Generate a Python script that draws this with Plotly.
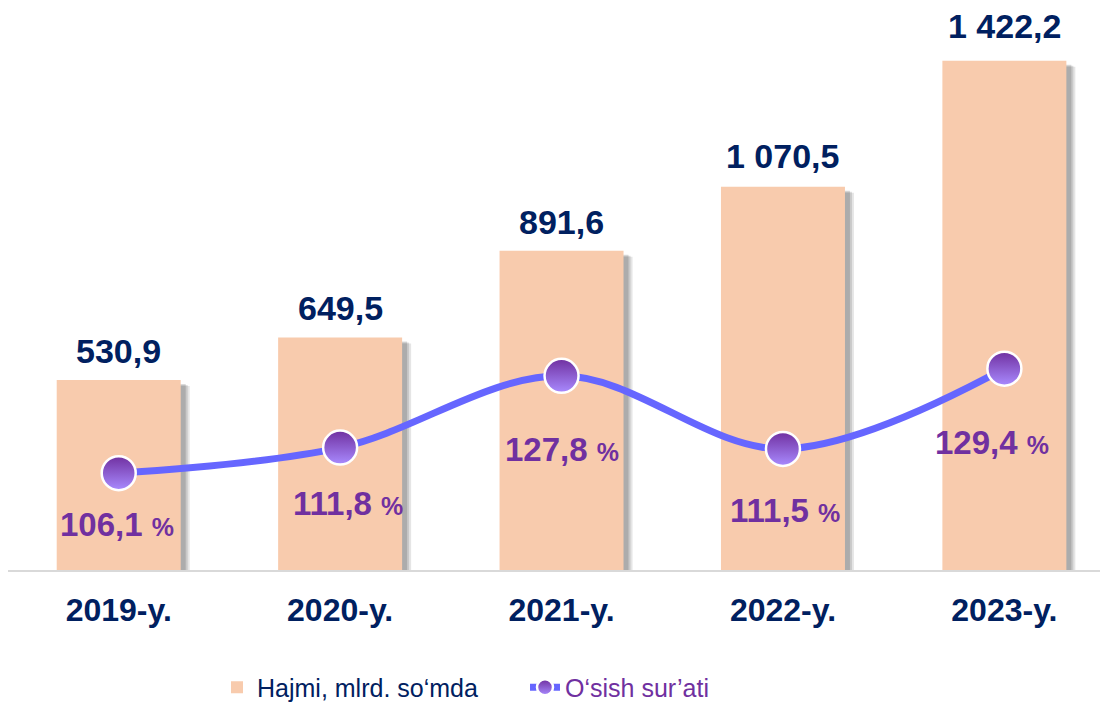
import plotly.graph_objects as go

years = ["2019-y.", "2020-y.", "2021-y.", "2022-y.", "2023-y."]
volume = [530.9, 649.5, 891.6, 1070.5, 1422.2]
growth = [106.1, 111.8, 127.8, 111.5, 129.4]

bar_name = "Hajmi, mlrd. so‘mda"
line_name = "O‘sish sur’ati"

# style
FONT = "Arial, Liberation Sans, sans-serif"
NAVY = "#002060"
PURPLE = "#7030A0"
BAR_COLOR = "#F8CBAD"
LINE_COLOR = "#6666FF"
W, H = 1100, 703
ML, MR, MT, MB = 0, 0, 2, 139
Y1_MAX = 1564
Y2_RANGE = [84.5, 209.4]
BAR_W = 0.56
pct_shift = [-51, -56, -74, -62, -74]
pct_xshift = [-2, 8, 0, 2, -12]
val_shift = [8, 8, 8, 10, 14]

x = list(range(len(years)))
plot_h = H - MT - MB
units_per_px = Y1_MAX / plot_h
px_per_xunit = (W - ML - MR) / 4.968

fig = go.Figure()

# soft shadows behind bars
for k, (dx, dy, a) in enumerate([(9, 6, 0.10), (7, 5, 0.12), (5, 4, 0.14)]):
    fig.add_trace(go.Bar(
        x=x, y=[v - dy * units_per_px for v in volume],
        width=BAR_W, offset=-BAR_W / 2 + dx / px_per_xunit,
        marker=dict(color=f"rgba(0,0,0,{a})", line=dict(width=0)),
        showlegend=False, hoverinfo="skip"))

fig.add_trace(go.Bar(
    x=x, y=volume, name=bar_name, width=BAR_W, offset=-BAR_W / 2,
    marker=dict(color=BAR_COLOR, line=dict(width=0)),
    hoverinfo="skip"))

fig.add_trace(go.Scatter(
    x=x, y=growth, yaxis="y2", mode="lines+markers",
    name=f"<span style='color:{PURPLE}'>{line_name}</span>",
    line=dict(color=LINE_COLOR, width=7, shape="spline", smoothing=1),
    marker=dict(size=34, color=PURPLE,
                gradient=dict(type="vertical", color="#A98BFF"),
                line=dict(color="white", width=2.5)),
    hoverinfo="skip"))

def fmt(v):
    s = f"{v:,.1f}"
    return s.replace(",", " ").replace(".", ",")

for i, v in enumerate(volume):
    fig.add_annotation(x=i, y=v, yref="y", text=f"<b>{fmt(v)}</b>",
                       showarrow=False, yanchor="bottom", yshift=val_shift[i],
                       font=dict(family=FONT, size=34, color=NAVY))

for i, g in enumerate(growth):
    txt = f"<b>{str(g).replace('.', ',')} <span style='font-size:25px'>%</span></b>"
    fig.add_annotation(x=i, y=g, yref="y2", text=txt, showarrow=False,
                       yanchor="middle", yshift=pct_shift[i], xshift=pct_xshift[i],
                       font=dict(family=FONT, size=33, color=PURPLE))

fig.update_layout(
    width=W, height=H, margin=dict(l=ML, r=MR, t=MT, b=MB),
    paper_bgcolor="white", plot_bgcolor="white",
    barmode="overlay",
    font=dict(family=FONT, color=NAVY),
    xaxis=dict(range=[-0.5, 4.468], tickmode="array", tickvals=x,
               ticktext=[f"<b>{t}</b>" for t in years],
               tickfont=dict(family=FONT, size=32, color=NAVY),
               showline=True, linecolor="#D9D9D9", linewidth=2,
               showgrid=False, zeroline=False, ticks="",
               ticklabelstandoff=11),
    yaxis=dict(range=[0, Y1_MAX], visible=False, showgrid=False),
    yaxis2=dict(range=Y2_RANGE, overlaying="y", visible=False, showgrid=False),
    legend=dict(orientation="h", x=0.19, xanchor="left", y=-0.21, yanchor="middle",
                font=dict(family=FONT, size=25, color=NAVY),
                entrywidth=263, entrywidthmode="pixels",
                bgcolor="rgba(0,0,0,0)"),
    showlegend=True,
)

fig.write_html("out.html")
